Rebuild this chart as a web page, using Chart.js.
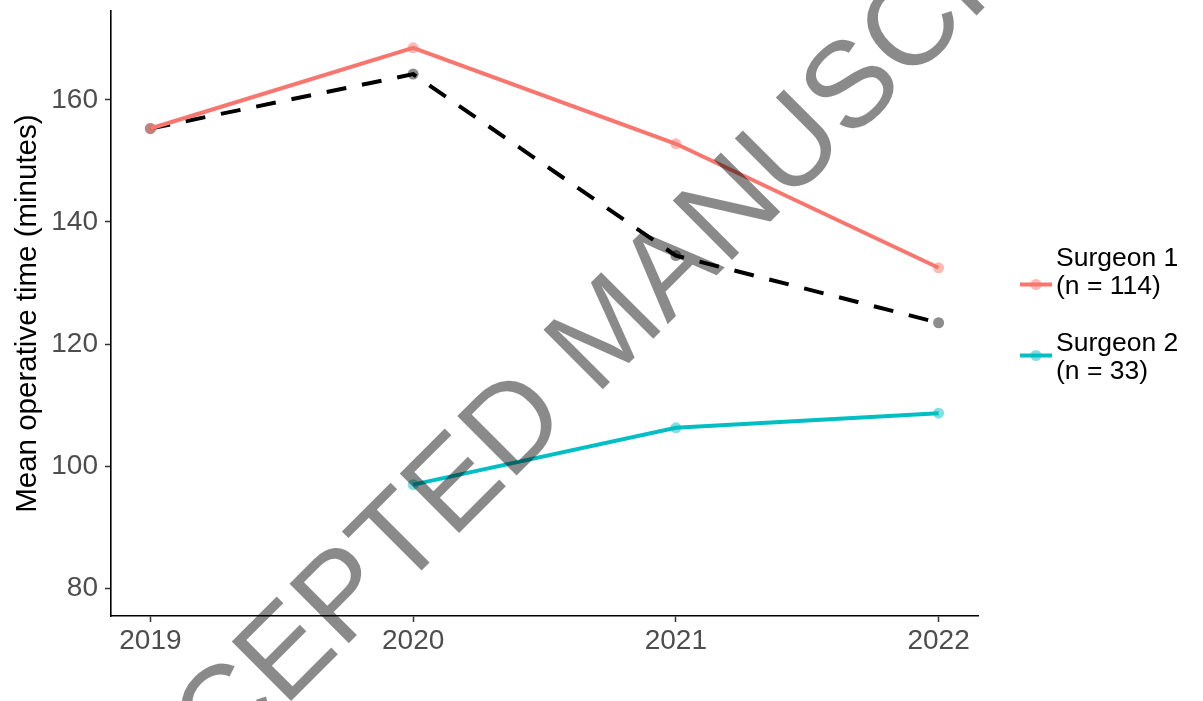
<!DOCTYPE html>
<html>
<head>
<meta charset="utf-8">
<script src="https://cdn.jsdelivr.net/npm/chart.js@4/dist/chart.umd.min.js"></script>
<style>
  html, body { margin: 0; padding: 0; background: #ffffff; }
  #wrap { width: 1203px; height: 701px; position: relative; }
</style>
</head>
<body>
<div id="wrap"><canvas id="c" width="1203" height="701"></canvas></div>
<script>
// ---- data ----
const years = [2019, 2020, 2021, 2022];
const surgeon1 = [155.3, 168.5, 152.8, 132.5];
const surgeon2Years = [2020, 2021, 2022];
const surgeon2 = [97.0, 106.3, 108.7];
const overall = [155.3, 164.2, 134.5, 123.5];
const yTicks = [80, 100, 120, 140, 160];
const xTicks = [2019, 2020, 2021, 2022];
const seriesNames = ['Surgeon 1', 'Surgeon 2'];
const seriesNotes = ['(n = 114)', '(n = 33)'];
const yTitle = 'Mean operative time (minutes)';
const watermarkText = 'ACCEPTED MANUSCRIPT';

const RED = '#F8766D', CYAN = '#00BFC4';
const FONT = '"Liberation Sans", Arial, Helvetica, sans-serif';

const pts = (xs, ys) => xs.map((x, i) => ({ x: x, y: ys[i] }));

const legendPlugin = {
  id: 'sideLegend',
  afterDraw(chart) {
    const ctx = chart.ctx;
    const keys = [
      { color: RED, fill: 'rgba(248,118,109,0.5)', keyY: 284.5, y1: 258.5, y2: 287 },
      { color: CYAN, fill: 'rgba(0,191,196,0.5)', keyY: 355.5, y1: 343.5, y2: 372 }
    ];
    ctx.save();
    keys.forEach((k, i) => {
      ctx.strokeStyle = k.color;
      ctx.lineWidth = 4;
      ctx.beginPath();
      ctx.moveTo(1020, k.keyY);
      ctx.lineTo(1052, k.keyY);
      ctx.stroke();
      ctx.fillStyle = k.fill;
      ctx.beginPath();
      ctx.arc(1036, k.keyY, 5.5, 0, Math.PI * 2);
      ctx.fill();
      ctx.fillStyle = '#000';
      ctx.font = '26.5px ' + FONT;
      ctx.textAlign = 'left';
      ctx.textBaseline = 'middle';
      ctx.fillText(seriesNames[i], 1056, k.y1);
      ctx.fillText(seriesNotes[i], 1056, k.y2);
    });
    ctx.restore();
  }
};

const watermarkPlugin = {
  id: 'watermark',
  afterDraw(chart) {
    const ctx = chart.ctx;
    ctx.save();
    ctx.translate(634, 358);
    ctx.rotate(-Math.PI / 4);
    ctx.font = '122px ' + FONT;
    ctx.textAlign = 'center';
    ctx.textBaseline = 'alphabetic';
    ctx.fillStyle = 'rgba(0,0,0,0.46)';
    ctx.fillText(watermarkText, 0, 0);
    ctx.restore();
  }
};

new Chart(document.getElementById('c'), {
  type: 'line',
  data: {
    datasets: [
      {
        label: seriesNames[0],
        data: pts(years, surgeon1),
        borderColor: RED,
        borderWidth: 4,
        pointRadius: 5.5,
        pointBorderWidth: 0,
        pointBackgroundColor: 'rgba(248,118,109,0.5)',
        order: 0
      },
      {
        label: seriesNames[1],
        data: pts(surgeon2Years, surgeon2),
        borderColor: CYAN,
        borderWidth: 4,
        pointRadius: 5.5,
        pointBorderWidth: 0,
        pointBackgroundColor: 'rgba(0,191,196,0.5)',
        order: 0
      },
      {
        label: 'Overall',
        data: pts(years, overall),
        borderColor: '#000000',
        borderWidth: 4,
        borderDash: [20, 16],
        pointRadius: 5.5,
        pointBorderWidth: 0,
        pointBackgroundColor: 'rgba(0,0,0,0.45)',
        order: 1
      }
    ]
  },
  options: {
    responsive: false,
    animation: false,
    devicePixelRatio: 1,
    layout: { padding: { top: 10, right: 225, left: 0, bottom: 0 } },
    plugins: { legend: { display: false }, tooltip: { enabled: false } },
    scales: {
      x: {
        type: 'linear',
        min: 2018.85,
        max: 2022.15,
        afterBuildTicks: (s) => { s.ticks = xTicks.map(v => ({ value: v })); },
        afterFit: (s) => { s.height = 85; },
        grid: { drawOnChartArea: false, drawTicks: true, tickLength: 6, tickColor: '#333', tickWidth: 1.5 },
        border: { display: true, color: '#000', width: 1.6 },
        ticks: {
          color: '#4d4d4d',
          font: { family: FONT, size: 28 },
          padding: 2,
          maxRotation: 0,
          callback: (v) => String(v)
        }
      },
      y: {
        type: 'linear',
        min: 75.5,
        max: 174.5,
        afterBuildTicks: (s) => { s.ticks = yTicks.map(v => ({ value: v })); },
        afterFit: (s) => { s.width = 111; },
        grid: { drawOnChartArea: false, drawTicks: true, tickLength: 6, tickColor: '#333', tickWidth: 1.5 },
        border: { display: true, color: '#000', width: 1.6 },
        ticks: {
          color: '#4d4d4d',
          font: { family: FONT, size: 28, lineHeight: 0.3 },
          padding: 7,
          callback: (v) => String(v)
        },
        title: {
          display: true,
          text: yTitle,
          color: '#000',
          font: { family: FONT, size: 29.5 },
          padding: { top: 10, bottom: 0 }
        }
      }
    }
  },
  plugins: [legendPlugin, watermarkPlugin]
});
</script>
</body>
</html>
